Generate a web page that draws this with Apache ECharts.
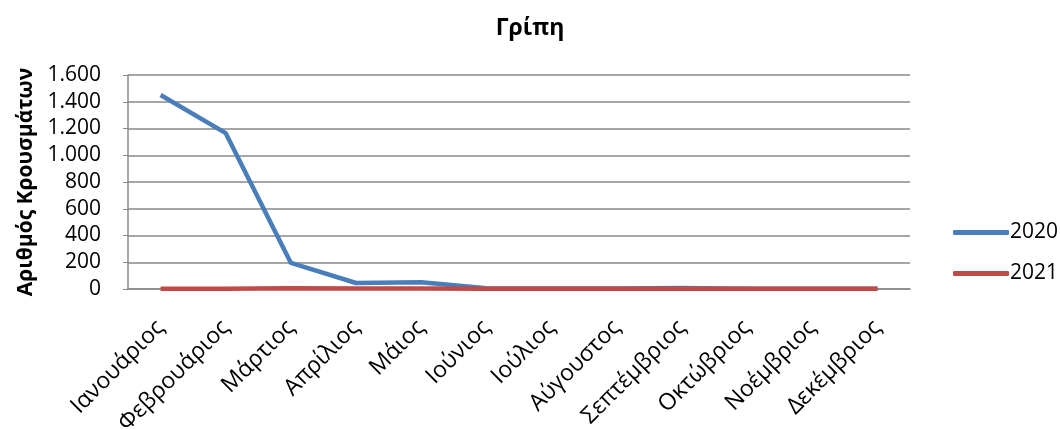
<!DOCTYPE html>
<html><head><meta charset="utf-8">
<script src="https://cdn.jsdelivr.net/npm/echarts@6/dist/echarts.min.js"></script>
<style>html,body{margin:0;padding:0;background:#fff}#c{width:1060px;height:430px}</style>
</head><body><div id="c"></div>
<script>
const months = ['Ιανουάριος','Φεβρουάριος','Μάρτιος','Απρίλιος','Μάιος','Ιούνιος','Ιούλιος','Αύγουστος','Σεπτέμβριος','Οκτώβριος','Νοέμβριος','Δεκέμβριος'];
const cases2020 = [1450, 1165, 195, 45, 50, 5, 3, 3, 8, 2, 1, 1];
const cases2021 = [2, 2, 6, 3, 3, 2, 2, 2, 2, 2, 2, 2];
const seriesNames = ['2020', '2021'];
const chartTitle = 'Γρίπη';
const yAxisTitle = 'Αριθμός Κρουσμάτων';

const font = 'Open Sans, Liberation Sans, sans-serif';
const chart = echarts.init(document.getElementById('c'));
chart.setOption({
  animation: false,
  backgroundColor: '#fff',
  title: {text: chartTitle, left: 'center', top: 12,
    textStyle: {fontFamily: font, fontWeight: 'bold', fontSize: 23, color: '#000'}},
  legend: {
    orient: 'vertical', left: 948, top: 217, itemGap: 20,
    itemWidth: 56, itemHeight: 5, icon: 'roundRect',
    textStyle: {fontFamily: font, fontSize: 21, color: '#000', padding: [0,0,0,-4]},
    data: seriesNames
  },
  grid: {left: 128, right: 150, top: 75, bottom: 141, containLabel: false, outerBoundsMode: 'none'},
  xAxis: {
    type: 'category', data: months, boundaryGap: true,
    axisLine: {lineStyle: {color: '#888', width: 1.5}},
    axisTick: {show: false},
    axisLabel: {rotate: 45, fontFamily: font, fontSize: 23, color: '#000', interval: 0, margin: 35}
  },
  yAxis: {
    type: 'value', min: 0, max: 1600, interval: 200,
    name: yAxisTitle, nameLocation: 'middle', nameGap: 86, nameRotate: 90,
    nameTextStyle: {fontFamily: font, fontWeight: 'bold', fontSize: 21, color: '#000'},
    axisLine: {show: true, lineStyle: {color: '#888', width: 1.5}},
    axisTick: {show: true, length: 5, lineStyle: {color: '#888'}},
    splitLine: {lineStyle: {color: '#888', width: 1.5}},
    axisLabel: {fontFamily: font, fontSize: 21, color: '#000', margin: 27,
      formatter: v => String(v).replace(/\B(?=(\d{3})+(?!\d))/g, '.')}
  },
  series: [
    {name: seriesNames[0], type: 'line', data: cases2020, symbol: 'none',
      lineStyle: {color: '#4a7ebb', width: 4.5}, itemStyle: {color: '#4a7ebb'}},
    {name: seriesNames[1], type: 'line', data: cases2021, symbol: 'none',
      lineStyle: {color: '#be4b48', width: 4.5}, itemStyle: {color: '#be4b48'}}
  ]
});
</script></body></html>
